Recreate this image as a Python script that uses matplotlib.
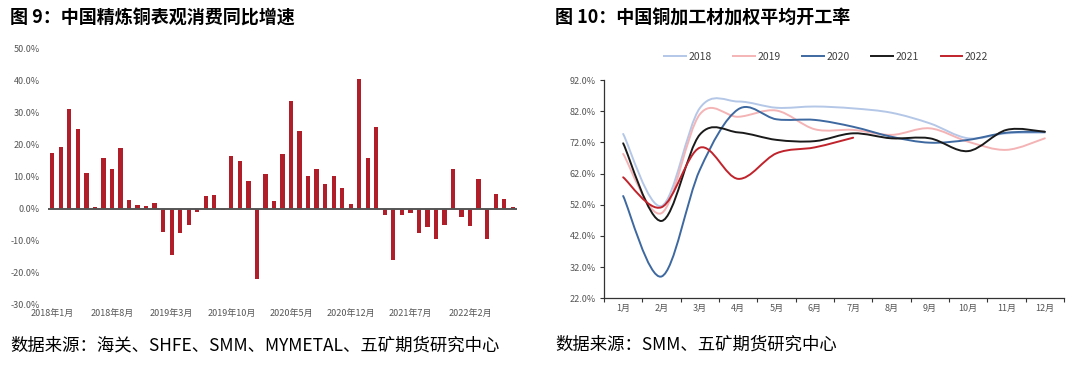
import numpy as np
import matplotlib
matplotlib.use("Agg")
import matplotlib.pyplot as plt
from matplotlib.path import Path
from matplotlib.patches import PathPatch
from matplotlib.lines import Line2D
from matplotlib.ticker import FixedLocator, FuncFormatter

plt.rcParams["font.family"] = ["Noto Sans CJK SC", "DejaVu Sans"]

# ---- Figure 9: apparent consumption yoy (%), 2018-01 .. 2022-07
MONTHS = [f"{y}年{m}月" for y in range(2018, 2023) for m in range(1, 13)][:55]
YOY = [
    17.4, 19.3, 31.1, 24.9, 11.4, 0.5, 15.9, 12.4, 19.0, 2.7, 1.4, 0.8,
    1.8, -7.1, -14.4, -7.4, -5.0, -1.0, 4.1, 4.4, -0.3, 16.7, 15.1, 8.8,
    -22.0, 10.8, 2.5, 17.3, 33.9, 24.4, 10.3, 12.6, 7.9, 10.2, 6.7, 1.5,
    40.5, 16.0, 25.7, -1.8, -16.0, -2.0, -1.1, -7.6, -5.7, -9.4, -5.1, 12.6,
    -2.4, -5.4, 9.4, -9.4, 4.6, 3.1, 0.6,
]
LABEL_STEP = 7
Y9_TICKS = [-30, -20, -10, 0, 10, 20, 30, 40, 50]

# ---- Figure 10: weighted operating rate of copper semis (%)
MONTH_LABELS = [f"{m}月" for m in range(1, 13)]
RATE_2018 = [74.7, 51.6, 83.0, 85.1, 83.1, 83.5, 82.9, 81.5, 78.1, 73.3, 74.9, 75.1]
RATE_2019 = [68.3, 49.3, 81.0, 80.2, 82.2, 76.2, 76.0, 74.4, 76.5, 72.2, 69.6, 73.3]
RATE_2020 = [54.8, 29.0, 63.2, 82.6, 79.4, 79.2, 77.0, 73.8, 71.9, 72.8, 75.1, 75.4]
RATE_2021 = [71.7, 46.8, 74.5, 75.2, 72.8, 72.4, 74.9, 73.3, 73.3, 69.2, 76.0, 75.4]
RATE_2022 = [60.8, 51.2, 70.3, 60.3, 68.5, 70.4, 73.5]
Y10_TICKS = [22, 32, 42, 52, 62, 72, 82, 92]

SERIES = [
    ("2018", RATE_2018, "#b4c7e7"),
    ("2019", RATE_2019, "#f4b4b6"),
    ("2020", RATE_2020, "#3d68a0"),
    ("2021", RATE_2021, "#1a1a1a"),
    ("2022", RATE_2022, "#c0232b"),
]

TICK_COLOR = "#555555"


def pct_fmt(x, pos):
    return f"{x:.1f}%"


def smooth_path(xs, ys):
    # Catmull-Rom through the points, drawn as cubic Bezier segments
    pts = np.column_stack([xs, ys]).astype(float)
    verts = [pts[0]]
    codes = [Path.MOVETO]
    n = len(pts)
    for i in range(n - 1):
        p0 = pts[i - 1] if i > 0 else pts[i]
        p1 = pts[i]
        p2 = pts[i + 1]
        p3 = pts[i + 2] if i + 2 < n else pts[i + 1]
        c1 = p1 + (p2 - p0) / 6.0
        c2 = p2 - (p3 - p1) / 6.0
        verts += [c1, c2, p2]
        codes += [Path.CURVE4] * 3
    return Path(verts, codes)


fig = plt.figure(figsize=(10.8, 3.67), dpi=100)

# titles and sources
fig.text(10 / 1080, 1 - 18 / 367, "图 9：中国精炼铜表观消费同比增速",
         fontsize=13, fontweight="bold", va="center", ha="left")
fig.text(555 / 1080, 1 - 18 / 367, "图 10：中国铜加工材加权平均开工率",
         fontsize=13, fontweight="bold", va="center", ha="left")
fig.text(10 / 1080, 1 - 345 / 367, "数据来源：海关、SHFE、SMM、MYMETAL、五矿期货研究中心",
         fontsize=12.5, va="center", ha="left")
fig.text(555 / 1080, 1 - 345 / 367, "数据来源：SMM、五矿期货研究中心",
         fontsize=12.5, va="center", ha="left")

# ---- left: bar chart
ax1 = fig.add_axes([48 / 1080, 1 - 305 / 367, 469 / 1080, 256 / 367])
x = np.arange(len(YOY))
ax1.bar(x, YOY, width=0.5, color="#b01f29", zorder=2)
ax1.axhline(0, color="#555555", lw=1.4, zorder=3)
ax1.set_xlim(-0.5, len(YOY) - 0.5)
ax1.set_ylim(-30, 50)
ax1.yaxis.set_major_locator(FixedLocator(Y9_TICKS))
ax1.yaxis.set_major_formatter(FuncFormatter(pct_fmt))
ax1.set_xticks(x[::LABEL_STEP])
ax1.set_xticklabels(MONTHS[::LABEL_STEP])
ax1.tick_params(axis="both", length=0, labelsize=6.5, colors=TICK_COLOR)
ax1.tick_params(axis="y", pad=6)
ax1.tick_params(axis="x", pad=3)
for s in ax1.spines.values():
    s.set_visible(False)

# ---- right: smoothed lines
ax2 = fig.add_axes([604 / 1080, 1 - 298.3 / 367, 460 / 1080, 218.3 / 367])
handles = []
for name, vals, color in SERIES:
    xs = np.arange(1, len(vals) + 1)
    ax2.add_patch(PathPatch(smooth_path(xs, vals), facecolor="none",
                            edgecolor=color, lw=1.4, capstyle="round"))
    handles.append(Line2D([], [], color=color, lw=1.4, label=name))
ax2.set_xlim(0.5, 12.5)
ax2.set_ylim(22, 92)
ax2.yaxis.set_major_locator(FixedLocator(Y10_TICKS))
ax2.yaxis.set_major_formatter(FuncFormatter(pct_fmt))
ax2.set_xticks(np.arange(0.5, 13, 1))
ax2.set_xticklabels([])
ax2.set_xticks(np.arange(1, 13), minor=True)
ax2.set_xticklabels(MONTH_LABELS, minor=True)
ax2.tick_params(axis="x", which="major", direction="out", length=3, width=0.8, color="#333333")
ax2.tick_params(axis="x", which="minor", length=0, labelsize=6.5, colors=TICK_COLOR, pad=4)
ax2.tick_params(axis="y", direction="out", length=3, width=0.8, color="#333333",
                labelsize=6.5, labelcolor=TICK_COLOR, pad=3)
ax2.spines["top"].set_visible(False)
ax2.spines["right"].set_visible(False)
for side in ("left", "bottom"):
    ax2.spines[side].set_color("#333333")
    ax2.spines[side].set_linewidth(0.9)

fig.legend(handles=handles, loc="center", bbox_to_anchor=(826 / 1080, 1 - 57 / 367),
           ncol=5, frameon=False, fontsize=7.5, handlelength=2.1,
           handletextpad=0.2, columnspacing=2.1, labelcolor="#404040")

fig.savefig("out.png", dpi=100)
